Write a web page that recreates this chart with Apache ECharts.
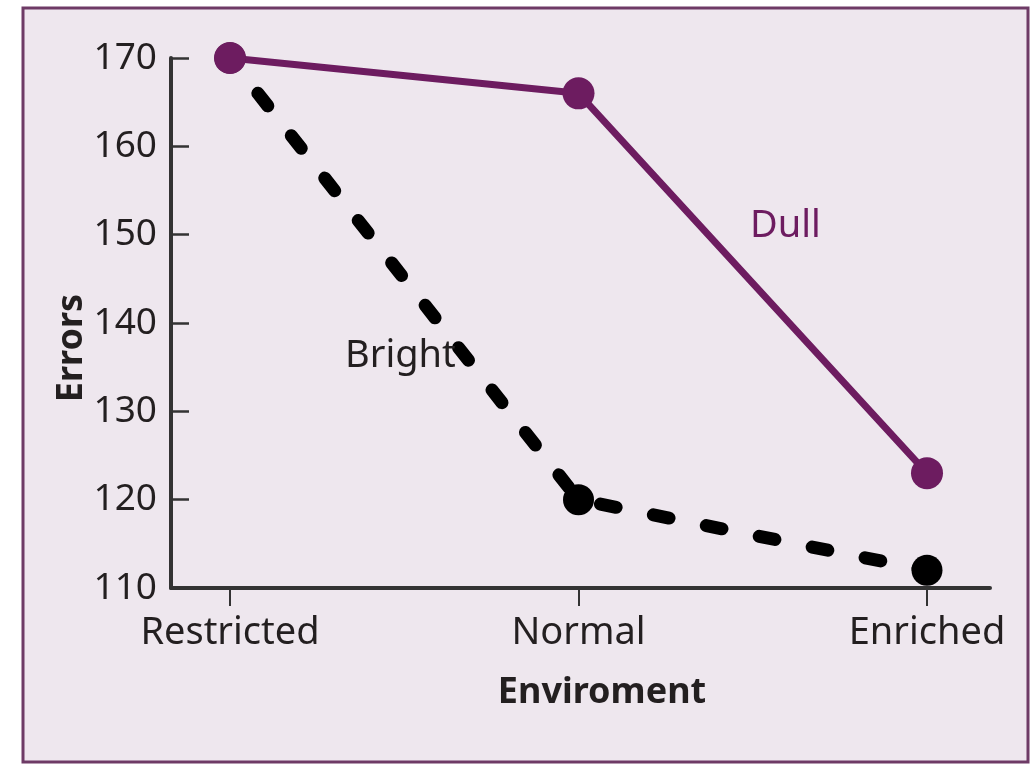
<!DOCTYPE html>
<html>
<head>
<meta charset="utf-8">
<script src="https://cdn.jsdelivr.net/npm/echarts@6/dist/echarts.min.js"></script>
<style>
html,body{margin:0;padding:0;background:#ffffff;}
#chart{width:1033px;height:766px;}
</style>
</head>
<body>
<div id="chart"></div>
<script>
// ---- data ----
const categories = ['Restricted', 'Normal', 'Enriched'];
const dullValues = [170, 166, 123];
const brightValues = [170, 120, 112];
const yTicks = [110, 120, 130, 140, 150, 160, 170];
const yMin = 110, yMax = 170, yStep = 10;

const FONT = '"Noto Sans", "Open Sans", sans-serif';
const TXT = '#231f20';
const PURPLE = '#6d1c60';

const chart = echarts.init(document.getElementById('chart'), null, {renderer: 'canvas'});

const option = {
  backgroundColor: '#ffffff',
  animation: false,
  graphic: [
    {
      type: 'rect', z: -100, silent: true,
      shape: {x: 23, y: 8, width: 1005, height: 754},
      style: {fill: '#eee7ee', stroke: '#6e3b66', lineWidth: 3}
    },
    {
      type: 'text', z: 100,
      style: {text: 'Dull', x: 750, y: 226, font: '38px ' + FONT, fill: PURPLE, textAlign: 'left', textVerticalAlign: 'middle'}
    },
    {
      type: 'text', z: 100,
      style: {text: 'Bright', x: 345, y: 356, font: '38px ' + FONT, fill: TXT, textAlign: 'left', textVerticalAlign: 'middle'}
    },
    {
      type: 'text', z: 100,
      x: 72, y: 348, rotation: Math.PI / 2,
      style: {text: 'Errors', x: 0, y: 0, font: 'bold 36px ' + FONT, fill: TXT, textAlign: 'center', textVerticalAlign: 'middle'}
    },
    {
      type: 'text', z: 100,
      style: {text: 'Enviroment', x: 602, y: 693, font: 'bold 36px ' + FONT, fill: TXT, textAlign: 'center', textVerticalAlign: 'middle'}
    }
  ],
  grid: [
    {left: 171, right: 43, top: 58, bottom: 178, containLabel: false},
    {left: 230, right: 106, top: 58, bottom: 178, containLabel: false}
  ],
  xAxis: [
    {
      type: 'value', gridIndex: 0, min: 0, max: 1,
      axisLine: {show: true, lineStyle: {color: '#333', width: 4}},
      axisTick: {show: false}, axisLabel: {show: false}, splitLine: {show: false}
    },
    {
      type: 'category', gridIndex: 1, data: categories, boundaryGap: false,
      axisLine: {show: false},
      axisTick: {show: true, inside: false, length: 18, lineStyle: {color: '#333', width: 2}},
      axisLabel: {show: true, margin: 26, fontSize: 38, fontFamily: FONT, color: TXT},
      splitLine: {show: false}
    }
  ],
  yAxis: [
    {
      type: 'value', gridIndex: 0, min: yMin, max: yMax, interval: yStep,
      axisLine: {show: true, lineStyle: {color: '#333', width: 4}},
      axisTick: {show: true, inside: true, length: 18, lineStyle: {color: '#333', width: 2.5}},
      axisLabel: {
        show: true, margin: 14, fontSize: 37, fontFamily: FONT, color: TXT,
        formatter: v => (yTicks.indexOf(v) >= 0 ? String(v) : '')
      },
      splitLine: {show: false}
    },
    {
      type: 'value', gridIndex: 1, min: yMin, max: yMax, interval: yStep, show: false
    }
  ],
  series: [
    {
      name: 'Bright', type: 'line', xAxisIndex: 1, yAxisIndex: 1,
      data: brightValues,
      symbol: 'circle', symbolSize: 31,
      itemStyle: {color: '#000000'},
      lineStyle: {color: '#000000', width: 13, type: [16, 38], dashOffset: 9, cap: 'round'}
    },
    {
      name: 'Dull', type: 'line', xAxisIndex: 1, yAxisIndex: 1,
      data: dullValues,
      symbol: 'circle', symbolSize: 32,
      itemStyle: {color: PURPLE},
      lineStyle: {color: PURPLE, width: 7}
    }
  ]
};
chart.setOption(option);
</script>
</body>
</html>
